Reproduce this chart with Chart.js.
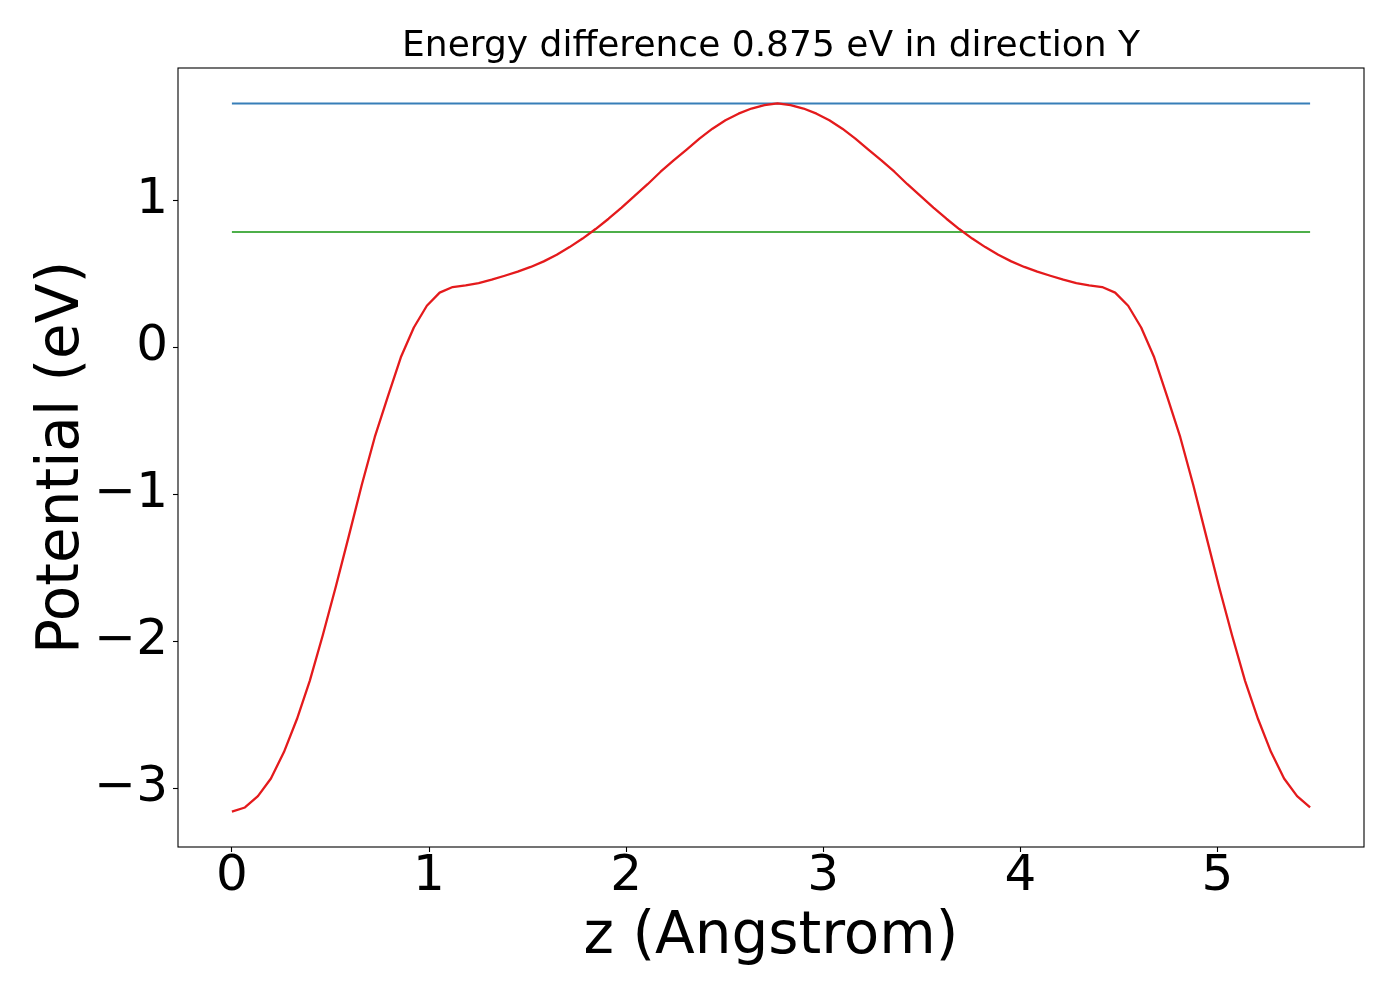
<!DOCTYPE html>
<html>
<head>
<meta charset="utf-8">
<script src="https://cdn.jsdelivr.net/npm/chart.js@4.4.1/dist/chart.umd.min.js"></script>
<style>
  html, body { margin: 0; padding: 0; background: #ffffff; }
  #c { display: block; }
</style>
</head>
<body>
<canvas id="c" width="1400" height="1000" style="width:1400px;height:1000px"></canvas>
<script>
// ---- data ----
const zValues = [
  0.000, 0.066, 0.132, 0.198, 0.264, 0.330, 0.395, 0.461, 0.527, 0.593,
  0.659, 0.725, 0.791, 0.857, 0.923, 0.989, 1.054, 1.120, 1.186, 1.252,
  1.318, 1.384, 1.450, 1.516, 1.582, 1.648, 1.713, 1.779, 1.845, 1.911,
  1.977, 2.043, 2.109, 2.175, 2.241, 2.307, 2.372, 2.438, 2.504, 2.570,
  2.636, 2.702, 2.768, 2.834, 2.900, 2.966, 3.031, 3.097, 3.163, 3.229,
  3.295, 3.361, 3.427, 3.493, 3.559, 3.625, 3.690, 3.756, 3.822, 3.888,
  3.954, 4.020, 4.086, 4.152, 4.218, 4.284, 4.349, 4.415, 4.481, 4.547,
  4.613, 4.679, 4.745, 4.811, 4.877, 4.943, 5.008, 5.074, 5.140, 5.206,
  5.272, 5.338, 5.404, 5.470
];
const potentialValues = [
  -3.160, -3.132, -3.055, -2.935, -2.755, -2.530, -2.270, -1.960, -1.630, -1.285,
  -0.935, -0.610, -0.335, -0.068, 0.135, 0.283, 0.372, 0.410, 0.422, 0.437,
  0.460, 0.487, 0.515, 0.547, 0.585, 0.630, 0.682, 0.740, 0.805, 0.875,
  0.950, 1.030, 1.110, 1.195, 1.272, 1.345, 1.420, 1.488, 1.545, 1.590,
  1.625, 1.648, 1.660, 1.648, 1.625, 1.590, 1.545, 1.488, 1.420, 1.345,
  1.272, 1.195, 1.110, 1.030, 0.950, 0.875, 0.805, 0.740, 0.682, 0.630,
  0.585, 0.547, 0.515, 0.487, 0.460, 0.437, 0.422, 0.410, 0.372, 0.283,
  0.135, -0.068, -0.335, -0.610, -0.935, -1.285, -1.630, -1.960, -2.270, -2.530,
  -2.755, -2.935, -3.055, -3.132
];
const maxLevelZ = [0.000, 5.470];
const maxLevelV = [1.660, 1.660];
const avgLevelZ = [0.000, 5.470];
const avgLevelV = [0.785, 0.785];

const xTickValues = [0, 1, 2, 3, 4, 5];
const xTickLabels = ['0', '1', '2', '3', '4', '5'];
const yTickValues = [-3, -2, -1, 0, 1];
const yTickLabels = ['\u22123', '\u22122', '\u22121', '0', '1'];

const titleText = 'Energy difference 0.875 eV in direction Y';
const xTitle = 'z (Angstrom)';
const yTitle = 'Potential (eV)';

// ---- chart ----
const FONT = '"DejaVu Sans", "Liberation Sans", sans-serif';
const pts = (xs, ys) => xs.map((x, i) => ({ x: x, y: ys[i] }));

const framePlugin = {
  id: 'frame',
  afterDraw(chart) {
    const a = chart.chartArea;
    const ctx = chart.ctx;
    ctx.save();
    ctx.strokeStyle = '#000000';
    ctx.lineWidth = 1.1;
    ctx.strokeRect(a.left, a.top, a.right - a.left, a.bottom - a.top);
    ctx.restore();
  }
};

new Chart(document.getElementById('c'), {
  type: 'line',
  data: {
    datasets: [
      {
        label: 'potential',
        data: pts(zValues, potentialValues),
        borderColor: '#e41a1c',
        borderWidth: 2.3,
        pointRadius: 0,
        tension: 0,
        borderJoinStyle: 'round',
        fill: false,
        order: 0
      },
      {
        label: 'max',
        data: pts(maxLevelZ, maxLevelV),
        borderColor: '#377eb8',
        borderWidth: 2,
        pointRadius: 0,
        fill: false,
        order: 2
      },
      {
        label: 'average',
        data: pts(avgLevelZ, avgLevelV),
        borderColor: '#4daf4a',
        borderWidth: 2,
        pointRadius: 0,
        fill: false,
        order: 1
      }
    ]
  },
  options: {
    responsive: false,
    devicePixelRatio: 1,
    animation: false,
    layout: { padding: { left: 0, right: 36, top: 0, bottom: 0 } },
    plugins: {
      legend: { display: false },
      tooltip: { enabled: false },
      title: {
        display: true,
        text: titleText,
        fullSize: false,
        color: '#000000',
        font: { family: FONT, size: 36, weight: 'normal', lineHeight: 1 },
        padding: { top: 29, bottom: 3 }
      }
    },
    scales: {
      x: {
        type: 'linear',
        min: -0.2735,
        max: 5.7435,
        afterBuildTicks: s => { s.ticks = xTickValues.map(v => ({ value: v })); },
        afterFit: s => { s.height = 153; },
        grid: { drawOnChartArea: false, drawTicks: true, tickLength: 5, tickColor: '#000000', tickWidth: 1.1 },
        border: { display: false },
        ticks: {
          color: '#000000',
          padding: 0,
          maxRotation: 0,
          autoSkip: false,
          font: { family: FONT, size: 50, lineHeight: 1 },
          callback: v => { const i = xTickValues.indexOf(v); return i >= 0 ? xTickLabels[i] : ''; }
        },
        title: {
          display: true,
          text: xTitle,
          color: '#000000',
          font: { family: FONT, size: 58 },
          padding: { top: 0, bottom: 27 }
        }
      },
      y: {
        type: 'linear',
        min: -3.401,
        max: 1.901,
        afterBuildTicks: s => { s.ticks = yTickValues.map(v => ({ value: v })); },
        afterFit: s => { s.width = 178; },
        grid: { drawOnChartArea: false, drawTicks: true, tickLength: 5, tickColor: '#000000', tickWidth: 1.1 },
        border: { display: false },
        ticks: {
          color: '#000000',
          padding: 5,
          autoSkip: false,
          font: { family: FONT, size: 50 },
          callback: v => { const i = yTickValues.indexOf(v); return i >= 0 ? yTickLabels[i] : ''; }
        },
        title: {
          display: true,
          text: yTitle,
          color: '#000000',
          font: { family: FONT, size: 58 },
          padding: { top: 28, bottom: 0 }
        }
      }
    }
  },
  plugins: [framePlugin]
});
</script>
</body>
</html>
